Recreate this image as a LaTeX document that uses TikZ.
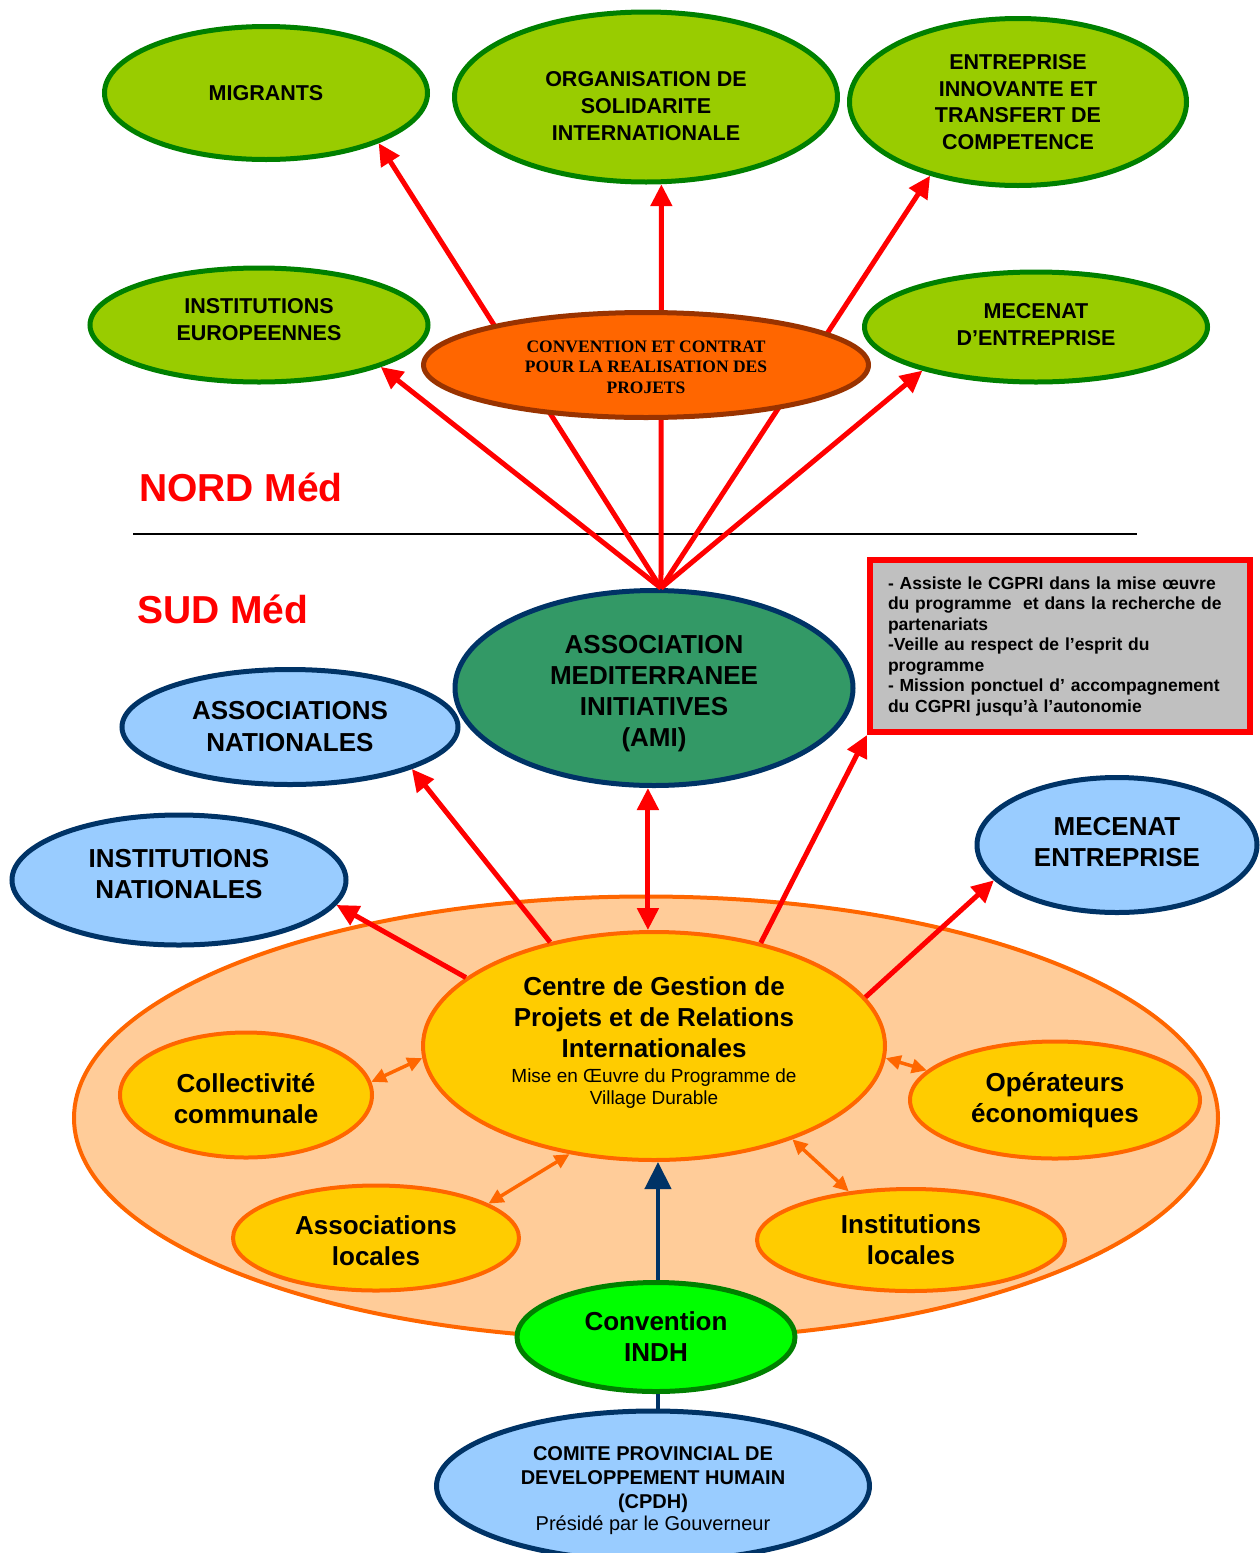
\documentclass[tikz,border=0pt]{standalone}
\usepackage{fontspec}
\setmainfont{Liberation Sans}
\newfontfamily\tnr{Liberation Serif}
\usetikzlibrary{shapes.geometric,arrows.meta}
\pgfdeclarelayer{front}
\pgfsetlayers{main,front}
\definecolor{lgreen}{HTML}{99CC00}
\definecolor{dgreen}{HTML}{008000}
\definecolor{navy}{HTML}{003366}
\definecolor{lblue}{HTML}{99CCFF}
\definecolor{amig}{HTML}{339966}
\definecolor{orng}{HTML}{FF6600}
\definecolor{brwn}{HTML}{993300}
\definecolor{peach}{HTML}{FFCC99}
\definecolor{yel}{HTML}{FFCC00}
\definecolor{bgreen}{HTML}{00FF00}
\definecolor{boxgray}{HTML}{C0C0C0}
% struts used to nudge node text up or down
\newcommand{\topstrut}[1]{\rule{0pt}{#1}}
\newcommand{\botstrut}[1]{\rule[-#1]{0pt}{#1}}
\begin{document}
\begin{tikzpicture}[x=1pt,y=-1pt,
  ell/.style={ellipse, inner sep=0pt, align=center},
  greenell/.style={ell, fill=lgreen, draw=dgreen, line width=5pt, font=\bfseries\fontsize{21.5}{27}\selectfont},
  blueell/.style={ell, fill=lblue, draw=navy, line width=5pt, font=\bfseries\fontsize{26}{32}\selectfont},
  yell/.style={ell, fill=yel, draw=orng, line width=4pt, font=\bfseries\fontsize{26}{31}\selectfont},
  redarr/.style={draw=red, line width=5pt, >={Triangle[length=22pt,width=21pt]}, ->},
  navyarr/.style={draw=navy, line width=4.5pt, >={Triangle[length=27pt,width=26pt]}, ->},
  orarr/.style={draw=orng, line width=3.5pt, >={Triangle[length=15pt,width=14pt]}, <->},
  sidelabel/.style={font=\bfseries\fontsize{39}{44}\selectfont, text=red, anchor=west, inner sep=0pt}
]
\useasboundingbox (0,0) rectangle (1260,1553);
\clip (0,0) rectangle (1260,1553);

% big peach ellipse
\node[ellipse, fill=peach, draw=orng, line width=4pt, minimum width=1144pt, minimum height=443pt] (peachell) at (646,1118) {};

% NORD
\node[greenell, minimum width=323pt, minimum height=133pt] (mig) at (266,93) {MIGRANTS};
\node[greenell, minimum width=383pt, minimum height=170pt] (osi) at (646,97) {\topstrut{33.5pt}ORGANISATION DE\\SOLIDARITE\\INTERNATIONALE};
\node[greenell, minimum width=337pt, minimum height=167pt, font=\bfseries\fontsize{21.5}{26.5}\selectfont] (eit) at (1018,102) {ENTREPRISE\\INNOVANTE ET\\TRANSFERT DE\\COMPETENCE};
\node[greenell, minimum width=338pt, minimum height=114pt] (ieu) at (259,325) {INSTITUTIONS\\EUROPEENNES\botstrut{12pt}};
\node[greenell, minimum width=343pt, minimum height=110pt] (med) at (1036,327) {MECENAT\\D’ENTREPRISE\botstrut{6pt}};
\begin{pgfonlayer}{front}
\node[ell, fill=orng, draw=brwn, line width=5pt, minimum width=445pt, minimum height=105pt, font=\tnr\bfseries\fontsize{17.5}{20.5}\selectfont] (ccr) at (646,365) {\topstrut{16pt}CONVENTION ET CONTRAT\\POUR LA REALISATION DES\\PROJETS};
\end{pgfonlayer}

\node[sidelabel] (nord) at (139,487) {NORD Méd};
\coordinate (sep1) at (133,534);
\coordinate (sep2) at (1137,534);
\draw[line width=2.5pt] (sep1) -- (sep2);
\node[sidelabel] (sud) at (137,609) {SUD Méd};

% SUD
\node[ell, fill=amig, draw=navy, line width=5pt, minimum width=398pt, minimum height=195pt, font=\bfseries\fontsize{26}{31}\selectfont] (ami) at (654,688) {\topstrut{28.7pt}ASSOCIATION\\MEDITERRANEE\\INITIATIVES\\(AMI)};
\node[rectangle, fill=boxgray, draw=red, line width=6pt, minimum width=380pt, minimum height=172pt, text width=344pt, align=left, inner sep=0pt, font=\bfseries\fontsize{17.5}{20.5}\selectfont] (box) at (1060,646) {- Assiste le CGPRI dans la mise œuvre\\du programme\ \ et dans la recherche de\\partenariats\\-Veille au respect de l’esprit du\\programme\\- Mission ponctuel d’ accompagnement\\du CGPRI jusqu’à l’autonomie};

\node[blueell, minimum width=336pt, minimum height=115pt] (ana) at (290,727) {ASSOCIATIONS\\NATIONALES};
\node[blueell, minimum width=334pt, minimum height=130pt, font=\bfseries\fontsize{26}{31}\selectfont] (ina) at (179,880) {INSTITUTIONS\\NATIONALES\botstrut{12pt}};
\node[blueell, minimum width=280pt, minimum height=135pt, font=\bfseries\fontsize{26}{31}\selectfont] (men) at (1117,845) {MECENAT\\ENTREPRISE\botstrut{6pt}};

\node[yell, minimum width=462pt, minimum height=228pt] (cgp) at (654,1046) {Centre de Gestion de\\Projets et de Relations\\Internationales\\[-6.5pt]{\mdseries\fontsize{19}{22}\selectfont Mise en Œuvre du Programme de}\\[-9pt]{\mdseries\fontsize{19}{22}\selectfont Village Durable\botstrut{11pt}}};
\node[yell, minimum width=252pt, minimum height=125pt] (col) at (246,1095) {\topstrut{25.5pt}Collectivité\\communale};
\node[yell, minimum width=290pt, minimum height=117pt] (ope) at (1055,1100) {Opérateurs\\économiques};
\node[yell, minimum width=286pt, minimum height=105pt] (alo) at (376,1238) {\topstrut{25pt}Associations\\locales};
\node[yell, minimum width=308pt, minimum height=102pt] (ilo) at (911,1240) {Institutions\\locales};
\node[ell, fill=bgreen, draw=dgreen, line width=5pt, minimum width=278pt, minimum height=109pt, font=\bfseries\fontsize{26}{31}\selectfont] (indh) at (656,1337) {Convention\\INDH};
\node[ell, fill=lblue, draw=navy, line width=5pt, minimum width=433pt, minimum height=150pt, font=\bfseries\fontsize{20}{24}\selectfont] (cpdh) at (653,1486) {\topstrut{22.5pt}COMITE PROVINCIAL DE\\DEVELOPPEMENT HUMAIN\\(CPDH)\\[-2pt]{\mdseries Présidé par le Gouverneur}};

% arrows from AMI to the north
\draw[redarr] (ami.86) -- (mig.-24);
\draw[redarr] (ami.86) -- (osi.-80);
\draw[redarr] (ami.86) -- (eit.-140);
\draw[redarr] (ami.86) -- (ieu.-19);
\draw[redarr] (ami.86) -- (med.-159);

% arrows from the centre
\draw[redarr] (cgp.135) -- (ana.-19);
\draw[redarr] (cgp.160) -- (ina.-9);
\draw[redarr, <->] (cgp.93) -- (cgp.93 |- ami.south);
\draw[redarr] (cgp.44) -- (box.south west);
\draw[redarr] (cgp.13) -- (men.-164);

\draw[orarr] (col.6) -- (cgp.-177);
\draw[orarr] (alo.17) -- (cgp.-128);
\draw[orarr] (ilo.142) -- (cgp.-34);
\draw[orarr] (ope.167) -- (cgp.-3);

\draw[navyarr] (indh.88) -- (indh.88 |- cgp.south);
\draw[draw=navy, line width=4.5pt] (indh.-88) -- (indh.-88 |- cpdh.north);
\end{tikzpicture}
\end{document}
